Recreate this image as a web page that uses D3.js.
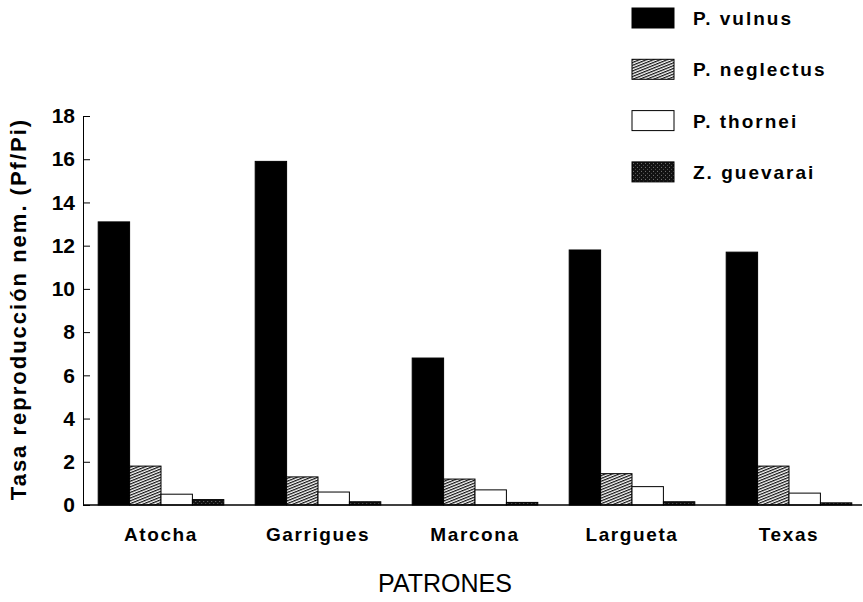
<!DOCTYPE html>
<html>
<head>
<meta charset="utf-8">
<script src="https://cdn.jsdelivr.net/npm/d3@7"></script>
<style>
  body { margin: 0; background: #fff; }
  svg { display: block; font-family: "Liberation Sans", Arial, sans-serif; }
</style>
</head>
<body>
<svg id="chart" width="863" height="602"></svg>
<script>
// Data
const patrones = ["Atocha", "Garrigues", "Marcona", "Largueta", "Texas"];
const especies = ["P. vulnus", "P. neglectus", "P. thornei", "Z. guevarai"];
const vulnus    = [13.1, 15.9, 6.8, 11.8, 11.7];
const neglectus = [1.8, 1.3, 1.2, 1.45, 1.8];
const thornei   = [0.5, 0.6, 0.7, 0.85, 0.55];
const guevarai  = [0.25, 0.15, 0.12, 0.15, 0.1];
const yTicks = [0, 2, 4, 6, 8, 10, 12, 14, 16, 18];

const series = [vulnus, neglectus, thornei, guevarai];

const svg = d3.select("#chart");
const defs = svg.append("defs");

// hatch for P. neglectus
const hatch = defs.append("pattern").attr("id", "hatch")
  .attr("patternUnits", "userSpaceOnUse")
  .attr("width", 6).attr("height", 2.6)
  .attr("patternTransform", "rotate(-22)");
hatch.append("rect").attr("width", 6).attr("height", 2.6).attr("fill", "#fff");
hatch.append("line").attr("x1", 0).attr("x2", 6).attr("y1", 0.6).attr("y2", 0.6)
  .attr("stroke", "#111").attr("stroke-width", 1.3);

// dark stipple for Z. guevarai
const stip = defs.append("pattern").attr("id", "stipple")
  .attr("patternUnits", "userSpaceOnUse")
  .attr("width", 4).attr("height", 4);
stip.append("rect").attr("width", 4).attr("height", 4).attr("fill", "#111");
stip.append("rect").attr("x", 1).attr("y", 1).attr("width", 1).attr("height", 1).attr("fill", "#777");
stip.append("rect").attr("x", 3).attr("y", 3).attr("width", 1).attr("height", 1).attr("fill", "#555");

const fills = ["#000", "url(#hatch)", "#fff", "url(#stipple)"];

const axisX = 83, baseY = 505, topY = 116;
const y = d3.scaleLinear([0, 18], [baseY, topY]);
const x0 = d3.scaleBand(patrones, [82.5, 867.5]).paddingInner(0.2).paddingOuter(0.1);
const x1 = d3.scaleBand(d3.range(especies.length), [0, x0.bandwidth()]);

// bars
const groups = svg.append("g").selectAll("g").data(patrones).join("g")
  .attr("transform", d => `translate(${x0(d)},0)`);
groups.selectAll("rect")
  .data((d, i) => series.map((s, k) => ({ k, v: s[i] })))
  .join("rect")
  .attr("x", d => x1(d.k))
  .attr("width", x1.bandwidth())
  .attr("y", d => y(d.v))
  .attr("height", d => baseY - y(d.v))
  .attr("fill", d => fills[d.k])
  .attr("stroke", "#000")
  .attr("stroke-width", 1);

// y axis
const yAxis = svg.append("g").attr("transform", `translate(${axisX},0)`)
  .call(d3.axisLeft(y).tickValues(yTicks).tickSizeInner(-7).tickSizeOuter(0).tickPadding(8));
yAxis.selectAll("text").attr("font-size", 21).attr("font-weight", "bold").attr("fill", "#000")
  .attr("font-family", "Liberation Sans, Arial, sans-serif");
yAxis.selectAll("line, path").attr("stroke", "#000");

// baseline
svg.append("line").attr("x1", axisX).attr("x2", 862).attr("y1", baseY).attr("y2", baseY)
  .attr("stroke", "#000").attr("stroke-width", 1.5);

// category labels
svg.append("g").selectAll("text").data(patrones).join("text")
  .attr("x", d => x0(d) + x0.bandwidth() / 2)
  .attr("y", 541)
  .attr("text-anchor", "middle")
  .attr("font-size", 19).attr("font-weight", "bold")
  .attr("letter-spacing", 1.6)
  .text(d => d);

// axis titles
svg.append("text")
  .attr("transform", `translate(26,${(113 + baseY) / 2}) rotate(-90)`)
  .attr("text-anchor", "middle")
  .attr("font-size", 22).attr("font-weight", "bold")
  .attr("letter-spacing", 2)
  .text("Tasa reproducción nem. (Pf/Pi)");

svg.append("text")
  .attr("x", 445).attr("y", 592)
  .attr("text-anchor", "middle")
  .attr("font-size", 25)
  .text("PATRONES");

// legend
const leg = svg.append("g").selectAll("g").data(especies).join("g")
  .attr("transform", (d, i) => `translate(632,${8 + i * 51.3})`);
leg.append("rect").attr("width", 42).attr("height", 20)
  .attr("fill", (d, i) => fills[i]).attr("stroke", "#000");
leg.append("text").attr("x", 61).attr("y", 17)
  .attr("font-size", 19).attr("font-weight", "bold").attr("letter-spacing", 2)
  .text(d => d);
</script>
</body>
</html>
